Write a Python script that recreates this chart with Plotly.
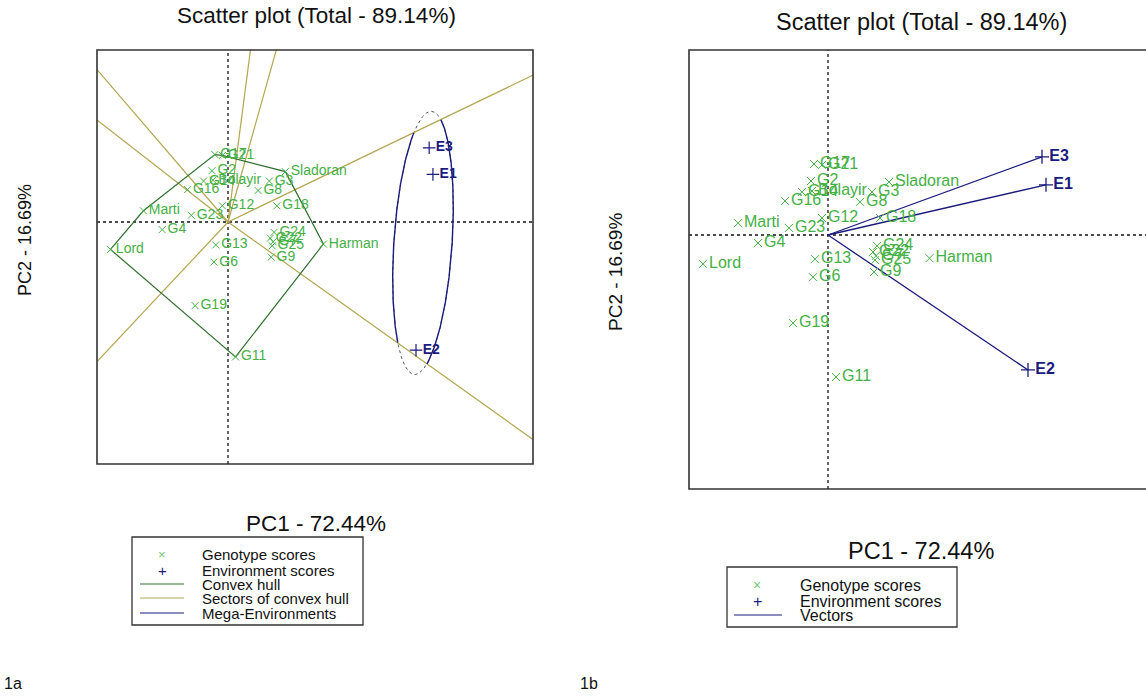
import numpy as np
import plotly.graph_objects as go

# ---------------- data ----------------
genotypes = ["G17", "G21", "G2", "G16", "G14", "Bolayir", "G3", "G8", "Sladoran",
             "G12", "G18", "Marti", "G23", "G4", "Lord", "G13", "G6", "G24", "G22",
             "G7", "G25", "G9", "Harman", "G19", "G11"]
g_pc1 = [-0.28, -0.12, -0.34, -0.86, -0.52, -0.32, 0.88, 0.64, 1.22,
         -0.12, 1.04, -1.80, -0.78, -1.40, -2.50, -0.26, -0.30, 0.98, 0.90,
         0.96, 0.94, 0.92, 2.03, -0.70, 0.16]
g_pc2 = [1.50, 1.48, 1.14, 0.72, 0.91, 0.93, 0.91, 0.70, 1.12,
         0.36, 0.36, 0.25, 0.15, -0.17, -0.61, -0.51, -0.89, -0.23, -0.36,
         -0.44, -0.53, -0.78, -0.49, -1.86, -3.00]
environments = ["E3", "E1", "E2"]
e_pc1 = [4.28, 4.36, 4.00]
e_pc2 = [1.65, 1.06, -2.85]

title_text = "Scatter plot (Total - 89.14%)"
pc1_label = "PC1 - 72.44%"
pc2_label = "PC2 - 16.69%"
legend_a = ["Genotype scores", "Environment scores", "Convex hull",
            "Sectors of convex hull", "Mega-Environments"]
legend_b = ["Genotype scores", "Environment scores", "Vectors"]
panel_tags = ["1a", "1b"]

# ---------------- styles ----------------
W, H = 1146, 696
FONT = "Liberation Sans, Arial, sans-serif"
GREEN = "#45b045"
NAVY = "#1b1b7e"
HULL = "#2f6e2f"
SECTOR = "#b3a650"


def px(x):
    return x / W


def py(y):
    return 1 - y / H


G = np.column_stack([g_pc1, g_pc2])
E = np.column_stack([e_pc1, e_pc2])


# convex hull (monotone chain)
def convex_hull(pts):
    idx = sorted(range(len(pts)), key=lambda i: (pts[i][0], pts[i][1]))

    def cross(o, a, b):
        return (a[0] - o[0]) * (b[1] - o[1]) - (a[1] - o[1]) * (b[0] - o[0])

    lower, upper = [], []
    for i in idx:
        while len(lower) >= 2 and cross(pts[lower[-2]], pts[lower[-1]], pts[i]) <= 0:
            lower.pop()
        lower.append(i)
    for i in reversed(idx):
        while len(upper) >= 2 and cross(pts[upper[-2]], pts[upper[-1]], pts[i]) <= 0:
            upper.pop()
        upper.append(i)
    return lower[:-1] + upper[:-1]


hull_idx = convex_hull(G)
hull_pts = G[hull_idx]
hull_closed = np.vstack([hull_pts, hull_pts[:1]])

# sector rays: perpendicular from origin to each hull edge
ray_x, ray_y, ray_angles = [], [], []
for k in range(len(hull_pts)):
    p = hull_pts[k]
    q = hull_pts[(k + 1) % len(hull_pts)]
    d = q - p
    foot = p - (p @ d) / (d @ d) * d
    u = foot / np.linalg.norm(foot)
    end = u * 40
    ray_x += [0, end[0], None]
    ray_y += [0, end[1], None]
    ray_angles.append(np.arctan2(u[1], u[0]))
ray_angles = np.sort(np.array(ray_angles))


def sector_of(ang):
    return int(np.sum(ray_angles < ang)) % len(ray_angles)


# mega-environment ellipse around environment scores
top = E[np.argmax(E[:, 1])]
bot = E[np.argmin(E[:, 1])]
axis_vec = top - bot
center = (top + bot) / 2 + 0.03 * axis_vec
semi_major = np.linalg.norm(axis_vec) / 2 * 1.30
semi_minor = 0.62
u_ax = axis_vec / np.linalg.norm(axis_vec)
v_ax = np.array([u_ax[1], -u_ax[0]])
t = np.linspace(0, 2 * np.pi, 721)
ell = center[None, :] + np.outer(np.cos(t) * semi_major, u_ax) + np.outer(np.sin(t) * semi_minor, v_ax)
e_sector = sector_of(np.arctan2(E[:, 1].mean(), E[:, 0].mean()))
sol_x, sol_y = [], []
for xx, yy in ell:
    if sector_of(np.arctan2(yy, xx)) == e_sector:
        sol_x.append(xx)
        sol_y.append(yy)
    else:
        if sol_x and sol_x[-1] is not None:
            sol_x.append(None)
            sol_y.append(None)

fig = go.Figure()

# ---------------- left panel ----------------
fig.add_trace(go.Scatter(x=ell[:, 0], y=ell[:, 1], mode="lines",
                         line=dict(color="#555555", width=1, dash="dot"),
                         xaxis="x", yaxis="y", hoverinfo="skip"))
fig.add_trace(go.Scatter(x=ray_x, y=ray_y, mode="lines",
                         line=dict(color=SECTOR, width=1.2),
                         xaxis="x", yaxis="y", hoverinfo="skip"))
fig.add_trace(go.Scatter(x=hull_closed[:, 0], y=hull_closed[:, 1], mode="lines",
                         line=dict(color=HULL, width=1.2),
                         xaxis="x", yaxis="y", hoverinfo="skip"))
fig.add_trace(go.Scatter(x=sol_x, y=sol_y, mode="lines",
                         line=dict(color=NAVY, width=1.4),
                         xaxis="x", yaxis="y", hoverinfo="skip"))
fig.add_trace(go.Scatter(x=g_pc1, y=g_pc2, mode="markers+text", text=genotypes,
                         textposition="middle right",
                         textfont=dict(family=FONT, size=14, color=GREEN),
                         marker=dict(symbol="x-thin", size=7,
                                     line=dict(color=GREEN, width=1)),
                         xaxis="x", yaxis="y", cliponaxis=False))
fig.add_trace(go.Scatter(x=e_pc1, y=e_pc2, mode="markers+text", text=environments,
                         textposition="middle right",
                         textfont=dict(family=FONT, size=14, color=NAVY, weight="bold"),
                         marker=dict(symbol="cross-thin", size=9,
                                     line=dict(color=NAVY, width=1.2)),
                         xaxis="x", yaxis="y", cliponaxis=False))

# ---------------- right panel ----------------
vec_x, vec_y = [], []
for xx, yy in zip(e_pc1, e_pc2):
    vec_x += [0, xx, None]
    vec_y += [0, yy, None]
fig.add_trace(go.Scatter(x=vec_x, y=vec_y, mode="lines",
                         line=dict(color=NAVY, width=1.3),
                         xaxis="x2", yaxis="y2", hoverinfo="skip"))
fig.add_trace(go.Scatter(x=g_pc1, y=g_pc2, mode="markers+text", text=genotypes,
                         textposition="middle right",
                         textfont=dict(family=FONT, size=16, color=GREEN),
                         marker=dict(symbol="x-thin", size=8,
                                     line=dict(color=GREEN, width=1)),
                         xaxis="x2", yaxis="y2", cliponaxis=False))
fig.add_trace(go.Scatter(x=e_pc1, y=e_pc2, mode="markers+text", text=environments,
                         textposition="middle right",
                         textfont=dict(family=FONT, size=16, color=NAVY, weight="bold"),
                         marker=dict(symbol="cross-thin", size=10,
                                     line=dict(color=NAVY, width=1.3)),
                         xaxis="x2", yaxis="y2", cliponaxis=False))

ax_common = dict(visible=False, showgrid=False, zeroline=False, fixedrange=True)

shapes = []
# frames
shapes.append(dict(type="rect", xref="paper", yref="paper",
                   x0=px(97), x1=px(533), y0=py(464), y1=py(50),
                   line=dict(color="#333333", width=1.6)))
shapes.append(dict(type="rect", xref="paper", yref="paper",
                   x0=px(689), x1=px(1160), y0=py(489), y1=py(50),
                   line=dict(color="#333333", width=1.6)))
# dotted zero lines
for xr, yr in (("x", "y"), ("x2", "y2")):
    shapes.append(dict(type="line", xref=xr, yref=yr + " domain", x0=0, x1=0, y0=0, y1=1,
                       line=dict(color="#111111", width=1.3, dash="dot"), layer="below"))
    shapes.append(dict(type="line", xref=xr + " domain", yref=yr, x0=0, x1=1, y0=0, y1=0,
                       line=dict(color="#111111", width=1.3, dash="dot"), layer="below"))
# legend boxes
shapes.append(dict(type="rect", xref="paper", yref="paper",
                   x0=px(132), x1=px(363), y0=py(625), y1=py(537),
                   line=dict(color="#333333", width=1.3)))
shapes.append(dict(type="rect", xref="paper", yref="paper",
                   x0=px(727), x1=px(957), y0=py(627), y1=py(567),
                   line=dict(color="#333333", width=1.3)))

ann = []


def text_at(x, y, s, size, color="#111111", anchor="center", angle=0):
    ann.append(dict(x=px(x), y=py(y), xref="paper", yref="paper", text=s,
                    showarrow=False, xanchor=anchor, yanchor="middle", textangle=angle,
                    font=dict(family=FONT, size=size, color=color)))


# titles & axis labels
text_at(316, 16, title_text, 22.5)
text_at(921, 22, title_text, 23.5)
text_at(316, 523, pc1_label, 22.5)
text_at(921, 551, pc1_label, 23.5)
text_at(25, 240, pc2_label, 18, angle=-90)
text_at(615, 272, pc2_label, 19, angle=-90)
text_at(2, 683, panel_tags[0], 16, anchor="left")
text_at(578, 683, panel_tags[1], 16, anchor="left")

# legend A
rows_a = [554, 570, 584, 598, 613]
for lbl, yy in zip(legend_a, rows_a):
    text_at(200, yy, lbl, 15, anchor="left")
text_at(162, rows_a[0], "×", 13, color="#77c777")
text_at(162, rows_a[1], "+", 15, color=NAVY)
for col, yy in zip([HULL, SECTOR, NAVY], rows_a[2:]):
    shapes.append(dict(type="line", xref="paper", yref="paper",
                       x0=px(140), x1=px(184), y0=py(yy), y1=py(yy),
                       line=dict(color=col, width=1.2)))
# legend B
rows_b = [585, 601, 615]
for lbl, yy in zip(legend_b, rows_b):
    text_at(798, yy, lbl, 16, anchor="left")
text_at(757, rows_b[0], "×", 14, color="#77c777")
text_at(757, rows_b[1], "+", 16, color=NAVY)
shapes.append(dict(type="line", xref="paper", yref="paper",
                   x0=px(734), x1=px(782), y0=py(rows_b[2]), y1=py(rows_b[2]),
                   line=dict(color=NAVY, width=1.2)))

fig.update_layout(
    width=W, height=H, autosize=False,
    margin=dict(l=0, r=0, t=0, b=0),
    paper_bgcolor="white", plot_bgcolor="white",
    showlegend=False,
    xaxis=dict(domain=[px(97), px(533)], range=[-2.787, 6.489], anchor="y", **ax_common),
    yaxis=dict(domain=[py(464), py(50)], range=[-5.380, 3.824], anchor="x", **ax_common),
    xaxis2=dict(domain=[px(689), 1.0], range=[-2.78, 6.36], anchor="y2", **ax_common),
    yaxis2=dict(domain=[py(489), py(50)], range=[-5.364, 3.907], anchor="x2", **ax_common),
    shapes=shapes, annotations=ann,
)

fig.write_html("out.html", config={"displayModeBar": False},
               post_script="document.body.style.margin='0';document.body.style.overflow='hidden';")
